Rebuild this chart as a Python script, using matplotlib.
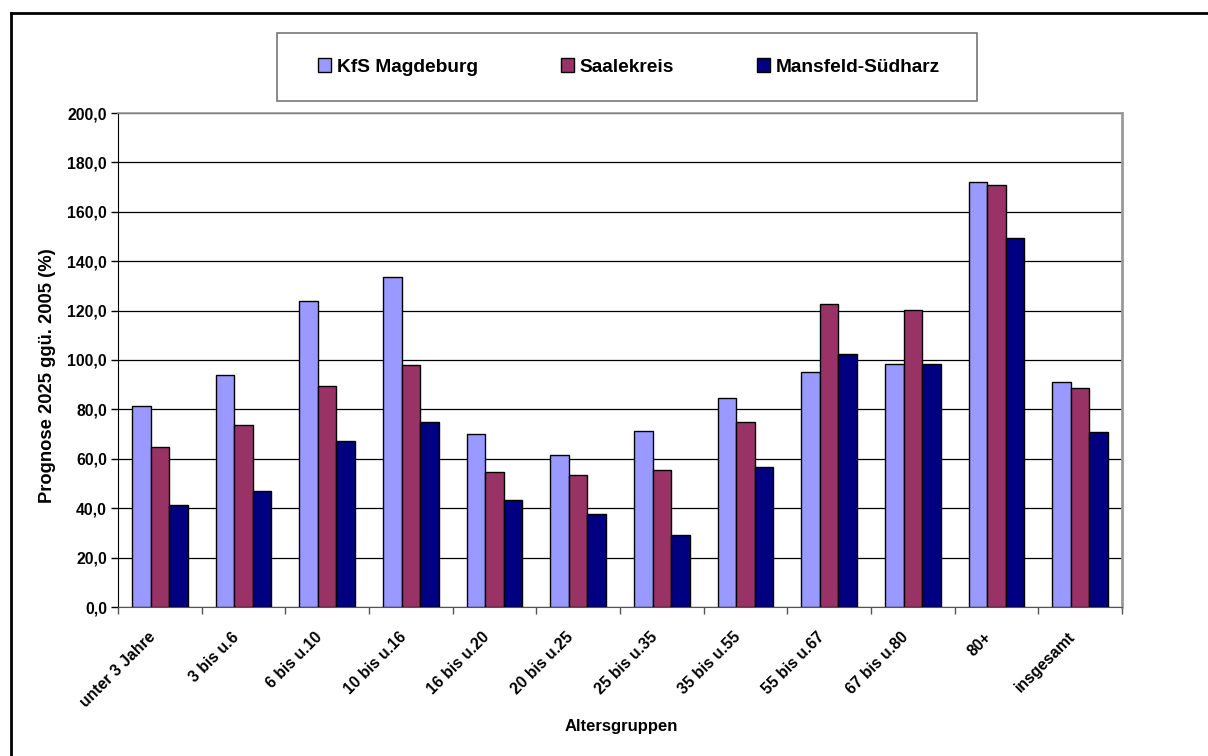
import matplotlib
matplotlib.use("Agg")
import matplotlib.pyplot as plt
from matplotlib.patches import Rectangle
from matplotlib.lines import Line2D
from matplotlib.ticker import FuncFormatter, MultipleLocator
import numpy as np

plt.rcParams['font.family'] = ['Liberation Sans', 'DejaVu Sans']
plt.rcParams['font.weight'] = 'bold'

# Altersgruppen und Prognosewerte 2025 ggü. 2005 (%)
gruppen = ['unter 3 Jahre', '3 bis u.6', '6 bis u.10', '10 bis u.16', '16 bis u.20',
           '20 bis u.25', '25 bis u.35', '35 bis u.55', '55 bis u.67', '67 bis u.80',
           '80+', 'insgesamt']
magdeburg = [81.3, 93.9, 123.8, 133.8, 70.0, 61.5, 71.2, 84.7, 95.0, 98.2, 172.0, 91.0]
saalekreis = [64.9, 73.6, 89.6, 98.1, 54.5, 53.6, 55.5, 75.0, 122.8, 120.1, 170.8, 88.7]
mansfeld = [41.3, 47.0, 67.1, 75.1, 43.5, 37.6, 29.0, 56.6, 102.6, 98.3, 149.3, 70.7]

namen = ['KfS Magdeburg', 'Saalekreis', 'Mansfeld-Südharz']
farben = ['#9999FF', '#993366', '#000080']

fig = plt.figure(figsize=(12.08, 7.56), dpi=100)
ax = fig.add_axes([118 / 1208, 1 - 607 / 756, (1122 - 118) / 1208, (607 - 113) / 756])

x = np.arange(len(gruppen))
w = 1 / 4.5
for k, (werte, farbe) in enumerate(zip([magdeburg, saalekreis, mansfeld], farben)):
    ax.bar(x + (k - 1) * w, werte, width=w, color=farbe, edgecolor='black',
           linewidth=1.0, zorder=3, label=namen[k])

ax.set_xlim(-0.5, len(gruppen) - 0.5)
ax.set_ylim(0, 200)
ax.yaxis.set_major_locator(MultipleLocator(20))
ax.yaxis.set_major_formatter(FuncFormatter(lambda v, p: f'{v:.1f}'.replace('.', ',')))
ax.grid(axis='y', color='black', linewidth=0.9, zorder=0)

# Kategoriegrenzen als Tickmarken; Beschriftung knapp links der Gruppenmitte
ax.set_xticks(np.arange(len(gruppen) + 1) - 0.5, minor=False)
ax.set_xticklabels([])
ax.set_xticks(x - 0.085, minor=True)
ax.set_xticklabels(gruppen, minor=True, rotation=45, ha='right', va='center',
                   rotation_mode='anchor', fontsize=11.3, fontweight='bold')
ax.tick_params(axis='x', which='minor', length=0, pad=20)
ax.tick_params(axis='x', which='major', length=5, width=1, color='#555555', direction='out')
ax.tick_params(axis='y', length=5, width=1, direction='out', labelsize=11.3, pad=3)
for lab in ax.get_yticklabels():
    lab.set_fontweight('bold')

ax.spines['left'].set_color('black')
ax.spines['bottom'].set_color('#555555')
ax.spines['top'].set_color('#999999')
ax.spines['right'].set_color('#999999')
ax.spines['right'].set_linewidth(2)
ax.spines['top'].set_linewidth(1.2)

fig.text(48 / 1208, 1 - 376 / 756, 'Prognose 2025 ggü. 2005 (%)', rotation=90,
         ha='center', va='center', fontsize=13.2, fontweight='bold')
fig.text(621 / 1208, 1 - 726 / 756, 'Altersgruppen', ha='center', va='center',
         fontsize=12, fontweight='bold')

# Legendenrahmen
fig.patches.append(Rectangle((277 / 1208, 1 - 101 / 756), 700 / 1208, 68 / 756,
                             transform=fig.transFigure, facecolor='white',
                             edgecolor='#777777', linewidth=1.2))
handles = [Rectangle((0, 0), 1, 1, facecolor=f, edgecolor='black', linewidth=1) for f in farben]
fig.legend(handles, namen, loc='center', bbox_to_anchor=(629 / 1208, 1 - 67 / 756),
           ncol=3, frameon=False, prop={'size': 13.8, 'weight': 'bold'},
           handlelength=0.7, handleheight=0.75, handletextpad=0.3, columnspacing=4.3)

# Diagrammrahmen (links und oben)
fig.add_artist(Line2D([11 / 1208, 11 / 1208], [0, 1 - 13 / 756], transform=fig.transFigure,
                      color='black', linewidth=2))
fig.add_artist(Line2D([11 / 1208, 1], [1 - 13 / 756, 1 - 13 / 756], transform=fig.transFigure,
                      color='black', linewidth=2))

fig.savefig('out.png', dpi=100, facecolor='white')
